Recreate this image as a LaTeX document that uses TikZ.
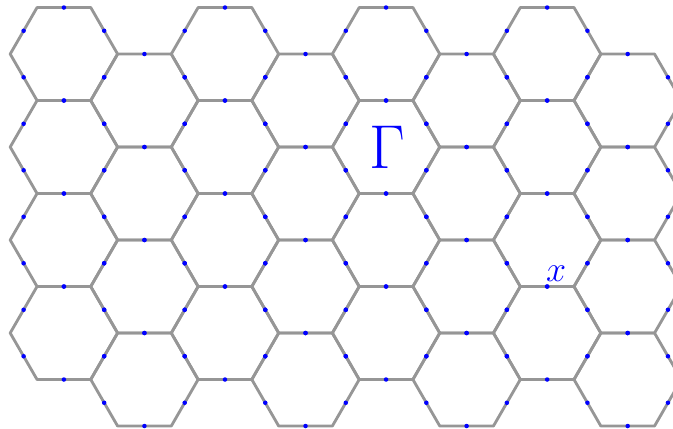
\documentclass[tikz,border=0pt]{standalone}
\usepackage{amsmath,amssymb}
\definecolor{hexG}{RGB}{150,150,150}
\definecolor{dotB}{RGB}{0,0,255}

\begin{document}
\begin{tikzpicture}[line join=round,
  hexedge/.style={hexG,line width=1.5pt},
  middot/.style={fill=dotB}]
\useasboundingbox (-1.19,1.006) rectangle (11.344,-6.965);
\clip (-1.19,1.006) rectangle (11.344,-6.965);
% honeycomb, columns shifted by half a cell
\foreach \i in {0,...,7}{
  \foreach \j in {0,...,3}{
    \pgfmathsetmacro{\cx}{1.5*\i}
    \pgfmathsetmacro{\cy}{-1.732*\j-0.866*mod(\i,2)}
    \draw[hexedge] (\cx,\cy) +(0:1) -- +(60:1) -- +(120:1) -- +(180:1) -- +(240:1) -- +(300:1) -- cycle;
  }
}
% dots on the edge midpoints
\foreach \i in {0,...,7}{
  \foreach \j in {0,...,3}{
    \pgfmathsetmacro{\cx}{1.5*\i}
    \pgfmathsetmacro{\cy}{-1.732*\j-0.866*mod(\i,2)}
    \foreach \a in {30,90,...,330}
      \fill[middot] (\cx,\cy) ++(\a:0.866) circle (0.042);
  }
}
\node[text=dotB,font=\Huge,scale=1.32] (gamma) at (6.02,-1.74) {$\Gamma$};
\coordinate (xdot) at (9,-4.33);
\node[text=dotB,font=\huge,scale=0.92,anchor=south west,inner sep=0pt,yshift=2.5pt,xshift=-0.8pt] (xlab) at (xdot) {$x$};
\end{tikzpicture}
\end{document}
